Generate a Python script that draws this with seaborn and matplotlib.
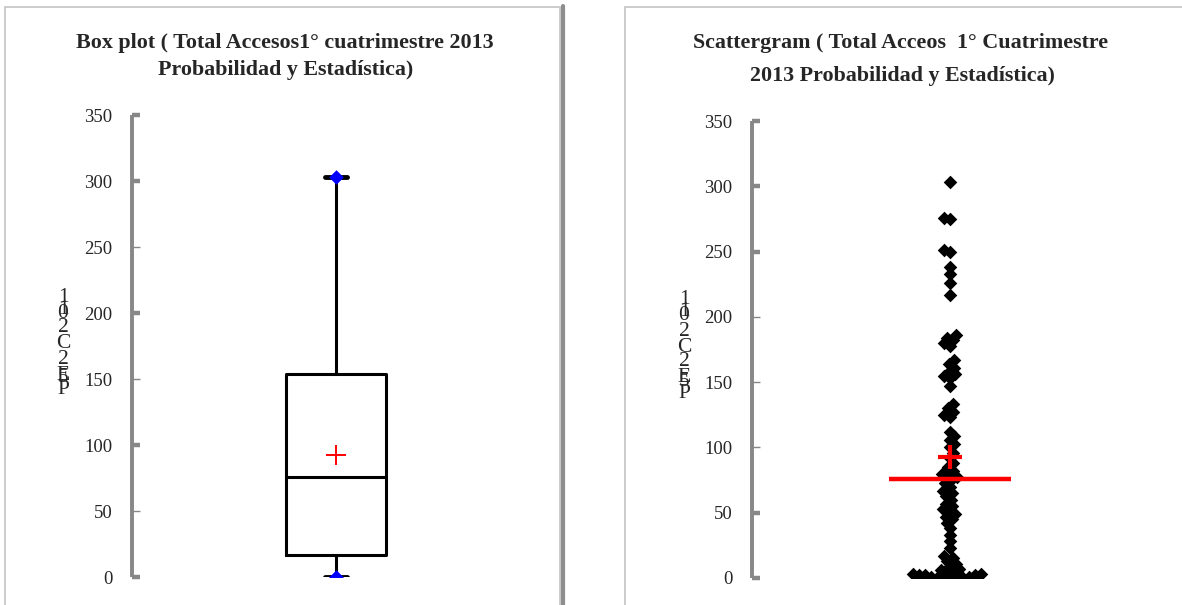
import numpy as np
import pandas as pd
import matplotlib
matplotlib.use("Agg")
import matplotlib.pyplot as plt
import seaborn as sns
from matplotlib.patches import Rectangle
from matplotlib.lines import Line2D

# ---------------- data ----------------
accesos = [
    # high values
    303, 276, 275, 251, 250, 238, 233, 226, 217, 186, 184, 182, 180, 178,
    167, 164, 161, 158, 156, 155,
    # between median and upper quartile
    153, 147, 133, 130, 127, 125, 123, 112, 109, 106, 103, 100, 96, 92,
    88, 85, 82, 80, 79, 77,
    # between lower quartile and median
    75, 73, 70, 67, 65, 63, 60, 57, 55, 53, 51, 49, 47, 45, 42, 38, 33,
    28, 23, 17,
    # lowest values
    0, 0, 0, 1, 1, 1, 1, 2, 2, 2, 3, 3, 4, 5, 6, 7, 9, 11, 13, 15,
]
y_ticks = [0, 50, 100, 150, 200, 250, 300, 350]
box_title = ["Box plot ( Total Accesos1° cuatrimestre 2013",
             "Probabilidad y Estadística)"]
scatter_title = ["Scattergram ( Total Acceos  1° Cuatrimestre",
                 "2013 Probabilidad y Estadística)"]
ylabel_glyphs = ["1", "1", "0", "2", "C", "2", "E", "5", "P"]
ylabel_offsets = [0, 12, 16, 31, 47, 62, 78, 81, 93]

df = pd.DataFrame({"Total": accesos, "grupo": 0})
vals = np.asarray(accesos, dtype=float)

sns.set_style("white")
plt.rcParams["font.family"] = ["Liberation Serif", "DejaVu Serif"]

W, H = 1182, 605
fig = plt.figure(figsize=(W / 100, H / 100), dpi=100)

def fx(px):
    return px / W

def fy(py):
    return 1 - py / H

# ---------------- panel frames ----------------
fig.add_artist(Rectangle((fx(4.5), fy(640)), fx(560 - 4.5), (640 - 6.5) / H,
                         transform=fig.transFigure, fill=False,
                         edgecolor="#c4c4c4", linewidth=1.2))
fig.add_artist(Line2D([fx(563), fx(563)], [fy(6), fy(610)],
                      transform=fig.transFigure, color="#8e8e8e", linewidth=3.0))
fig.add_artist(Rectangle((fx(625), fy(640)), fx(700), (640 - 6.5) / H,
                         transform=fig.transFigure, fill=False,
                         edgecolor="#c4c4c4", linewidth=1.2))

# ---------------- axes ----------------
ax1 = fig.add_axes([fx(132), fy(577), fx(408), (577 - 115) / H])
ax2 = fig.add_axes([fx(752), fy(578), fx(396), (578 - 121) / H])
for ax in (ax1, ax2):
    ax.set_ylim(0, 350)
    ax.set_xlim(-0.5, 0.5)

# Box plot
sns.boxplot(data=df, y="Total", ax=ax1, whis=(0, 100), width=0.245,
            fill=False, color="black", linecolor="black", linewidth=2.2,
            showfliers=False, showmeans=True,
            meanprops=dict(marker="+", markeredgecolor="red",
                           markerfacecolor="red", markersize=15,
                           markeredgewidth=1.4))
try:
    cont = ax1.containers[0]
    for cap in cont.caps:
        xd = np.asarray(cap.get_xdata(), dtype=float)
        c = xd.mean()
        cap.set_xdata([c - 0.027, c + 0.027])
        cap.set_linewidth(3.5)
except Exception:
    pass
ext = pd.DataFrame({"x": [0, 0], "y": [vals.min(), vals.max()]})
sns.scatterplot(data=ext, x="x", y="y", ax=ax1, marker="D", color="#0000ff",
                s=55, linewidth=0, zorder=5, legend=False)

# Scattergram: swarm placement computed with small markers, then drawn larger
sns.swarmplot(data=df, y="Total", ax=ax2, color="black", marker="D",
              size=4.3, linewidth=0, zorder=3)
ax2.set_ylim(0, 350)
ax2.set_xlim(-0.5, 0.5)
fig.canvas.draw()
swarm = ax2.collections[-1]
pos = np.asarray(swarm.get_offsets(), dtype=float)
swarm.remove()
placed = pd.DataFrame({"x": pos[:, 0], "y": pos[:, 1]})
sns.scatterplot(data=placed, x="x", y="y", ax=ax2, marker="D", color="black",
                s=48, linewidth=0, zorder=3, legend=False)

med = float(np.median(vals))
mean = float(vals.mean())
ax2.plot([-0.155, 0.155], [med, med], color="red", linewidth=3.2,
         solid_capstyle="butt", zorder=4)
ax2.plot([0], [mean], marker="+", color="red", markersize=17,
         markeredgewidth=3.0, zorder=5)

thick = [{0, 100, 200, 300, 350}, {0, 50, 250, 300, 350}]
for ax, tk in zip((ax1, ax2), thick):
    ax.set_ylim(0, 350)
    ax.set_xlim(-0.5, 0.5)
    ax.set_yticks(y_ticks)
    ax.set_yticklabels([str(t) for t in y_ticks], fontsize=13.5,
                       family=["Liberation Serif"])
    ax.set_xticks([])
    ax.set_xlabel("")
    ax.set_ylabel("")
    for s in ("top", "right", "bottom"):
        ax.spines[s].set_visible(False)
    ax.spines["left"].set_color("#878787")
    ax.spines["left"].set_linewidth(2.8)
    ax.spines["left"].set_capstyle("butt")
    ax.tick_params(axis="y", direction="in", length=6, color="#878787",
                   pad=14, left=True)
    for t, val in zip(ax.yaxis.get_major_ticks(), y_ticks):
        t.tick1line.set_markeredgewidth(3.2 if val in tk else 1.0)
    ax.patch.set_alpha(0)

# ---------------- titles ----------------
tkw = dict(ha="center", va="center", fontsize=15.8, fontweight="bold",
           family=["Liberation Serif"])
fig.text(fx(285), fy(43), box_title[0], **tkw)
fig.text(fx(286), fy(70), box_title[1], **tkw)
fig.text(fx(901), fy(43), scatter_title[0], **tkw)
fig.text(fx(902), fy(76), scatter_title[1], **tkw)

# ---------------- garbled vertical axis titles ----------------
for xc, y0 in ((63, 297), (684, 300)):
    for g, off in zip(ylabel_glyphs, ylabel_offsets):
        fig.text(fx(xc), fy(y0 + off), g, ha="center", va="center",
                 fontsize=15.5, family=["Liberation Serif"])

fig.savefig("out.png", dpi=100)
